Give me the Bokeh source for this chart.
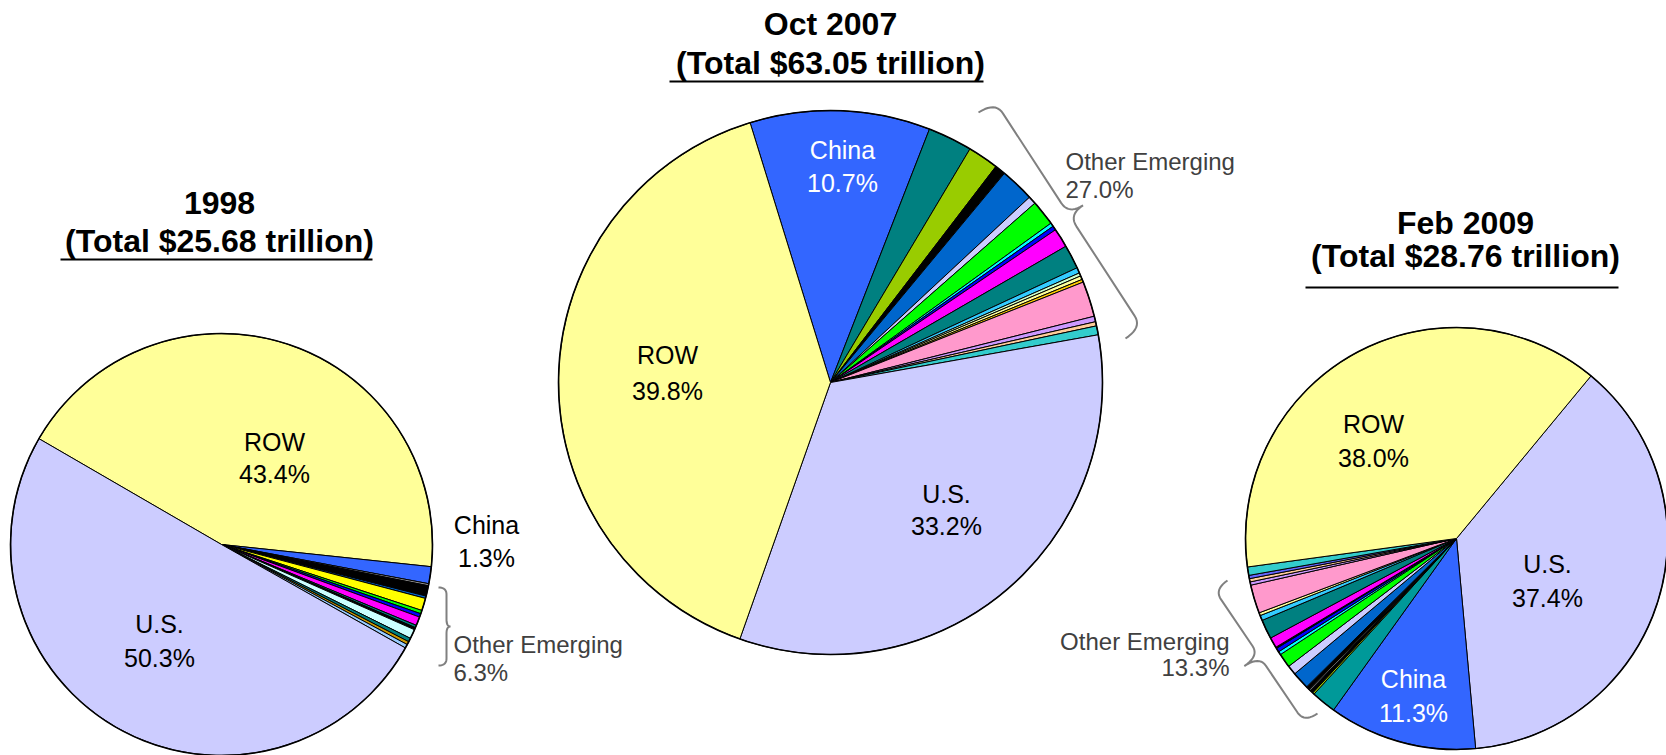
import math
from bokeh.plotting import figure
from bokeh.models import Range1d, ColumnDataSource
from bokeh.embed import file_html
from bokeh.resources import INLINE
from bokeh.core.properties import value

# ---------------- data ----------------
titles = ["1998", "Oct 2007", "Feb 2009"]
totals = ["25.68", "63.05", "28.76"]
other_emerging_pct = [6.3, 27.0, 13.3]

# 1998 (clockwise): ROW, China, other emerging..., U.S.
v1998_names = ["ROW", "China", "e1", "e2", "e3", "e4", "e5", "e6", "e7", "e8", "e9",
               "e10", "e11", "e12", "e13", "U.S."]
v1998 = [43.4, 1.3, 0.16, 0.80, 0.18, 0.95, 0.26, 0.27, 0.67, 0.19, 0.17,
         0.72, 0.29, 0.24, 0.29, 50.3]
c1998 = ["#FFFF99", "#3366FF", "#969696", "#000000", "#0066CC", "#FFFF00", "#00FF00",
         "#0000FF", "#FF00FF", "#008080", "#000000", "#CCFFFF", "#008080", "#CC9900",
         "#99CCFF", "#CCCCFF"]

# Oct 2007 (clockwise): China, other emerging..., U.S., ROW
v2007_names = ["China", "e1", "e2", "e3", "e4", "e5", "e6", "e7", "e8", "e9", "e10",
               "e11", "e12", "e13", "e14", "e15", "e16", "e17", "e18", "U.S.", "ROW"]
v2007 = [10.7, 2.64, 1.83, 0.64, 2.03, 0.47, 1.50, 0.22, 0.25, 1.14, 1.42,
         0.33, 0.19, 0.22, 0.17, 2.10, 0.33, 0.25, 0.53, 33.2, 39.8]
c2007 = ["#3366FF", "#008080", "#99CC00", "#000000", "#0066CC", "#CCCCFF", "#00FF00",
         "#00FFFF", "#0000FF", "#FF00FF", "#008080", "#33CCFF", "#CCFFCC", "#FFFF99",
         "#FFCC00", "#FF99CC", "#CC99FF", "#FFCC99", "#33CCCC", "#CCCCFF", "#FFFF99"]

# Feb 2009 (clockwise): U.S., China, other emerging..., ROW
v2009_names = ["U.S.", "China", "e1", "e2", "e3", "e4", "e5", "e6", "e7", "e8", "e9",
               "e10", "e11", "e12", "e13", "e14", "e15", "e16", "e17", "e18", "e19",
               "e20", "ROW"]
v2009 = [37.4, 11.3, 1.89, 0.14, 0.25, 0.11, 0.28, 1.33, 0.72, 1.08, 0.25, 0.30,
         0.10, 0.80, 1.47, 0.39, 0.22, 2.17, 0.25, 0.25, 0.25, 0.64, 38.0]
c2009 = ["#CCCCFF", "#3366FF", "#009999", "#99CC00", "#000000", "#969696", "#000000",
         "#0066CC", "#CCCCFF", "#00FF00", "#00FFFF", "#0000FF", "#000000", "#FF00FF",
         "#008080", "#33CCFF", "#FFFF99", "#FF99CC", "#CC99FF", "#FFCC99", "#6666FF",
         "#33CCCC", "#FFFF99"]

# ---------------- layout ----------------
PW, PH = 1666, 755
FONT = "Liberation Sans"

p = figure(width=PW, height=PH, output_backend="svg", toolbar_location=None,
           x_range=Range1d(0, PW), y_range=Range1d(0, PH), min_border=0)
p.axis.visible = False
p.grid.visible = False
p.outline_line_color = None
p.background_fill_color = "white"
p.border_fill_color = "white"


def Y(py):
    return PH - py


def draw_pie(cx, cy, r, start_deg, vals, cols):
    total = float(sum(vals))
    a = math.radians(start_deg)
    ss, ee = [], []
    for v in vals:
        da = v / total * 2 * math.pi
        ee.append(a)
        ss.append(a - da)
        a -= da
    n = len(vals)
    src = ColumnDataSource(dict(x=[cx] * n, y=[Y(cy)] * n, s=ss, e=ee, c=cols))
    p.wedge(x="x", y="y", radius=r, start_angle="s", end_angle="e", fill_color="c",
            line_color="black", line_width=1, source=src)
    p.circle(x=[cx], y=[Y(cy)], radius=r, fill_color=None, line_color="black",
             line_width=1.6)


def label(x, y, txt, size="25px", color="black", align="center", bold=False):
    p.text(x=[x], y=[Y(y)], text=[txt], text_font=value(FONT), text_font_size=size,
           text_color=color, text_align=align, text_baseline="middle",
           text_font_style="bold" if bold else "normal")


def title(cx, y1, y2, uy, ux0, ux1, t, tot):
    label(cx, y1, t, size="32px", bold=True)
    label(cx, y2, "(Total $%s trillion)" % tot, size="32px", bold=True)
    p.line(x=[ux0, ux1], y=[Y(uy), Y(uy)], line_color="black", line_width=2)


def qbez(p0, p1, p2, n=10):
    out = []
    for i in range(n + 1):
        t = i / n
        out.append(((1 - t) ** 2 * p0[0] + 2 * (1 - t) * t * p1[0] + t * t * p2[0],
                    (1 - t) ** 2 * p0[1] + 2 * (1 - t) * t * p1[1] + t * t * p2[1]))
    return out


def brace(x0, y0, x1, y1, h, d, r, side):
    L = math.hypot(x1 - x0, y1 - y0)
    ux, uy = (x1 - x0) / L, (y1 - y0) / L
    px, py = -uy * side, ux * side
    m = L / 2
    loc = []
    loc += qbez((0, 0), (0, h), (r, h))
    loc += qbez((m - r, h), (m, h), (m, d))
    loc += qbez((m, d), (m, h), (m + r, h))
    loc += qbez((L - r, h), (L, h), (L, 0))
    xs = [x0 + s * ux + t * px for s, t in loc]
    ys = [Y(y0 + s * uy + t * py) for s, t in loc]
    p.line(x=xs, y=ys, line_color="#808080", line_width=2)


# ---- 1998 ----
draw_pie(221, 544, 211, 149.9, v1998, c1998)
title(219, 202, 240, 259, 60, 372, titles[0], totals[0])
label(274, 441, v1998_names[0])
label(274, 473, "%.1f%%" % v1998[0])
label(159, 623, v1998_names[-1])
label(159, 657, "%.1f%%" % v1998[-1])
label(486, 524, v1998_names[1])
label(486, 557, "%.1f%%" % v1998[1])
label(453, 644, "Other Emerging", size="24px", color="#404040", align="left")
label(453, 672, "%.1f%%" % other_emerging_pct[0], size="24px", color="#404040", align="left")
brace(438, 587, 438, 665, 8, 12, 7, -1)

# ---- Oct 2007 ----
draw_pie(830, 382, 272, 107.2, v2007, c2007)
title(830, 23, 62, 81, 669, 983, titles[1], totals[1])
label(842, 149, v2007_names[0], color="white")
label(842, 182, "%.1f%%" % v2007[0], color="white")
label(667, 354, v2007_names[-1])
label(667, 390, "%.1f%%" % v2007[-1])
label(946, 493, v2007_names[-2])
label(946, 525, "%.1f%%" % v2007[-2])
label(1065, 161, "Other Emerging", size="24px", color="#404040", align="left")
label(1065, 189, "%.1f%%" % other_emerging_pct[1], size="24px", color="#404040", align="left")
brace(978, 112, 1125, 338, 20, 37, 14, -1)

# ---- Feb 2009 ----
draw_pie(1456, 538, 211, 50.4, v2009, c2009)
title(1465, 222, 255, 287, 1305, 1618, titles[2], totals[2])
label(1373, 423, v2009_names[-1])
label(1373, 457, "%.1f%%" % v2009[-1])
label(1547, 563, v2009_names[0])
label(1547, 597, "%.1f%%" % v2009[0])
label(1413, 678, v2009_names[1], color="white")
label(1413, 712, "%.1f%%" % v2009[1], color="white")
label(1229, 641, "Other Emerging", size="24px", color="#404040", align="right")
label(1229, 667, "%.1f%%" % other_emerging_pct[2], size="24px", color="#404040", align="right")
brace(1227, 580, 1317, 713, 16, 34, 12, 1)

open("out.html", "w").write(file_html(p, INLINE))
